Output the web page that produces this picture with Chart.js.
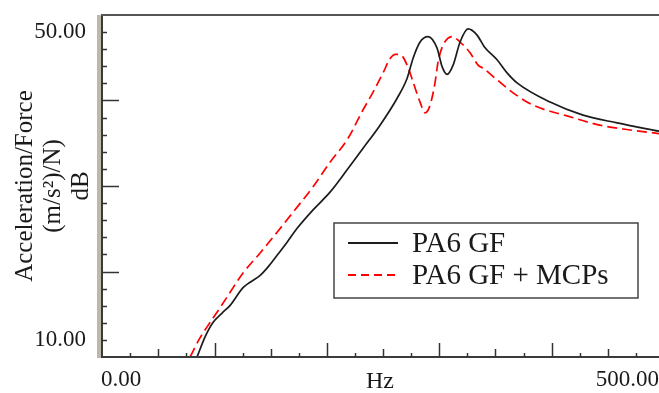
<!DOCTYPE html>
<html><head><meta charset="utf-8">
<script src="https://cdn.jsdelivr.net/npm/chart.js@4.4.0/dist/chart.umd.min.js"></script>
<style>html,body{margin:0;padding:0;background:#fff;overflow:hidden}#wrap{position:relative;width:659px;height:393px}</style>
</head><body><div id="wrap"><canvas id="c" width="659" height="393"></canvas></div>
<script>
// ---- data ----
const seriesNames = ["PA6 GF", "PA6 GF + MCPs"];
const xTickLabels = ["0.00", "500.00"];
const yTickLabels = ["10.00", "50.00"];
const yTickValues = [10, 50];
const xAxisTitle = "Hz";
const yAxisTitle = ["Acceleration/Force", "(m/s\u00B2)/N)", "dB"];

const pa6Hz = [84.5, 91.6, 98.8, 106.8, 113.9, 125.4, 131.7, 140.6, 147.7, 155.7, 164.6, 173.5, 187.7, 202.8, 218.0, 232.2, 247.3, 262.5, 271.4, 276.7, 282.9, 290.0, 298.0, 302.5, 306.9, 312.3, 318.5, 325.6, 333.6, 340.0, 351.4, 360.3, 369.2, 398.6, 427.9, 458.2, 496];
const pa6Db = [7.8, 10.4, 12.3, 13.5, 14.5, 16.8, 17.5, 18.4, 19.5, 21.0, 22.7, 24.5, 26.9, 29.2, 32.1, 34.9, 37.9, 41.4, 44.0, 46.6, 48.7, 49.4, 47.9, 45.5, 44.5, 45.7, 48.7, 50.4, 49.6, 48.1, 46.4, 44.7, 43.4, 40.9, 39.2, 38.2, 37.1];

const mcpHz = [78.3, 87.2, 93.4, 105.0, 113.9, 125.4, 140.6, 155.7, 169.9, 187.7, 202.8, 218.0, 232.2, 241.1, 250.0, 256.0, 261.0, 266.0, 271.4, 276.7, 282.9, 287.4, 291.8, 296.3, 298.9, 303.4, 311.4, 318.5, 327.4, 334.5, 339.0, 351.4, 365.7, 383.5, 413.7, 442.8, 463.5, 496];
const mcpDb = [7.8, 10.3, 11.7, 14.2, 16.2, 18.7, 21.3, 24.0, 26.6, 29.9, 33.1, 36.0, 39.9, 42.2, 44.7, 46.5, 47.1, 47.0, 45.7, 43.5, 40.9, 39.5, 40.5, 43.5, 46.1, 48.3, 49.4, 48.7, 47.3, 45.7, 45.3, 43.8, 42.1, 40.5, 39.1, 37.9, 37.4, 36.8];

const FONT = "'Liberation Serif', 'Times New Roman', serif";
const TXT = '#1a1a1a';

function pts(xs, ys) { return xs.map((x, i) => ({x: x, y: ys[i]})); }

// inward tick marks, frame and boxed legend drawn with the scales
const framePlugin = {
  id: 'frame',
  afterDraw(chart) {
    const ctx = chart.ctx, a = chart.chartArea;
    const xs = chart.scales.x, ys = chart.scales.y;
    ctx.save();
    ctx.fillStyle = '#bdb8ac';
    ctx.fillRect(a.left - 4, a.top, 4, a.bottom - a.top + 1);
    ctx.strokeStyle = '#3a3a3a';
    ctx.lineWidth = 2;
    ctx.beginPath();
    ctx.moveTo(a.left + 1, a.top); ctx.lineTo(a.left + 1, a.bottom);
    ctx.moveTo(a.left, a.bottom); ctx.lineTo(a.right, a.bottom);
    ctx.stroke();
    ctx.strokeStyle = '#555';
    ctx.beginPath();
    ctx.moveTo(a.left, a.top); ctx.lineTo(a.right, a.top);
    ctx.stroke();
    ctx.lineWidth = 1.5;
    ctx.strokeStyle = '#333';
    const yStep = 40 / 18;
    for (let k = 0; k <= 18; k++) {
      const v = 50 - k * yStep;
      const py = Math.round(ys.getPixelForValue(v)) + 0.5;
      const len = (k === 4 || k === 9 || k === 14) ? 17 : 5;
      ctx.beginPath(); ctx.moveTo(a.left + 1, py); ctx.lineTo(a.left + 1 + len, py); ctx.stroke();
    }
    for (let v = 25; v <= 475; v += 25) {
      const px = Math.round(xs.getPixelForValue(v)) + 0.5;
      const len = (v % 100 === 0) ? 14 : (v % 50 === 0 ? 8 : 4);
      ctx.beginPath(); ctx.moveTo(px, a.bottom); ctx.lineTo(px, a.bottom - len); ctx.stroke();
    }
    const lx = 334, ly = 223, lw = 304, lh = 75;
    ctx.fillStyle = '#fff';
    ctx.fillRect(lx, ly, lw, lh);
    ctx.strokeStyle = '#444';
    ctx.lineWidth = 1.5;
    ctx.strokeRect(lx, ly, lw, lh);
    chart.data.datasets.forEach((ds, i) => {
      const y = ly + 20 + i * 32;
      ctx.strokeStyle = ds.borderColor;
      ctx.lineWidth = 2;
      ctx.setLineDash(ds.borderDash && ds.borderDash.length ? [8, 5] : []);
      ctx.beginPath(); ctx.moveTo(348, y); ctx.lineTo(398, y); ctx.stroke();
      ctx.setLineDash([]);
      ctx.fillStyle = TXT;
      ctx.font = "29px " + FONT;
      ctx.textBaseline = 'middle';
      ctx.textAlign = 'left';
      ctx.fillText(ds.label, 412, y + 1);
    });
    ctx.restore();
  }
};

new Chart(document.getElementById('c'), {
  type: 'line',
  data: {
    datasets: [
      {label: seriesNames[0], data: pts(pa6Hz, pa6Db), borderColor: '#1c1c1c', borderWidth: 1.7,
       pointRadius: 0, cubicInterpolationMode: 'monotone', fill: false},
      {label: seriesNames[1], data: pts(mcpHz, mcpDb), borderColor: '#ff0000', borderWidth: 1.7,
       borderDash: [10, 5], pointRadius: 0, cubicInterpolationMode: 'monotone', fill: false}
    ]
  },
  options: {
    responsive: false,
    animation: false,
    devicePixelRatio: 1,
    layout: {padding: {top: 15, left: 0, right: 0, bottom: 0}},
    plugins: {legend: {display: false}, tooltip: {enabled: false}},
    scales: {
      x: {
        type: 'linear', min: -1, max: 495.5,
        grid: {display: false, drawTicks: false},
        border: {display: false},
        afterBuildTicks: s => { s.ticks = [{value: s.min}, {value: s.max}]; },
        afterFit: s => { s.height = 36; s.paddingLeft = 0; s.paddingRight = 0; s.paddingTop = 0; s.paddingBottom = 0; },
        ticks: {align: 'inner', padding: 9, maxRotation: 0, autoSkip: false,
                color: TXT, font: {family: FONT, size: 23},
                callback: (v, i) => xTickLabels[i]},
        title: {display: true, text: xAxisTitle, color: TXT,
                font: {family: FONT, size: 24, lineHeight: 0.9}, padding: 0}
      },
      y: {
        type: 'linear', min: 7.79, max: 52.21,
        grid: {display: false, drawTicks: false},
        border: {display: false},
        afterBuildTicks: s => { s.ticks = yTickValues.map(v => ({value: v})); },
        afterFit: s => { s.width = 101; s.paddingLeft = 0; s.paddingRight = 0; s.paddingTop = 0; s.paddingBottom = 0; },
        ticks: {padding: 15, color: TXT, font: {family: FONT, size: 23},
                callback: (v, i) => yTickLabels[i]},
        title: {display: true, text: yAxisTitle, color: TXT,
                font: {family: FONT, size: 25, lineHeight: '28px'}, padding: {top: 11, bottom: 0}}
      }
    }
  },
  plugins: [framePlugin]
});
</script></body></html>
